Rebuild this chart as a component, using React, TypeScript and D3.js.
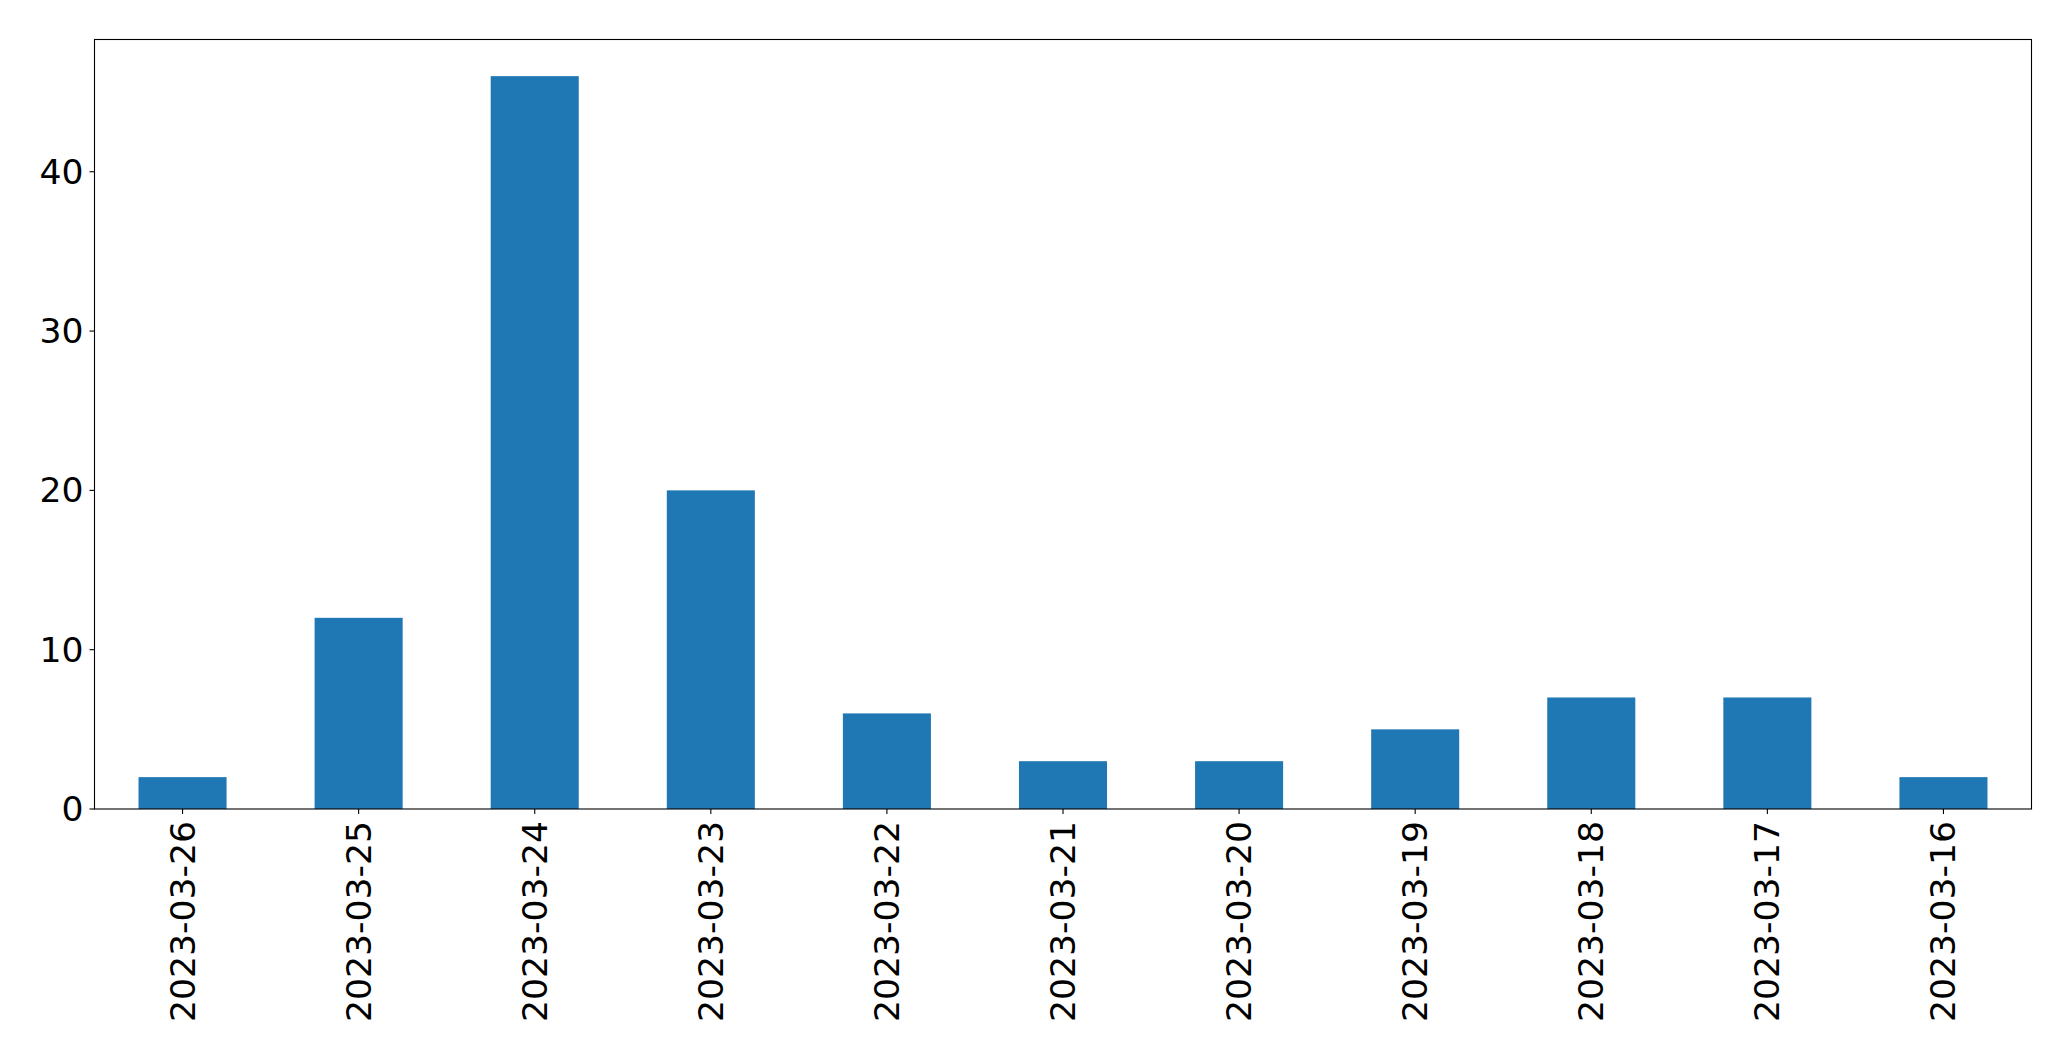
import React from "react";
import * as d3 from "d3";

const categories = [
  "2023-03-26", "2023-03-25", "2023-03-24", "2023-03-23", "2023-03-22",
  "2023-03-21", "2023-03-20", "2023-03-19", "2023-03-18", "2023-03-17", "2023-03-16",
];
const values = [2, 12, 46, 20, 6, 3, 3, 5, 7, 7, 2];
const yTicks = [0, 10, 20, 30, 40];

const W = 2071;
const H = 1061;
const margin = { left: 94.5, right: 2031.5, top: 39.5, bottom: 809 };
const FONT = "DejaVu Sans, sans-serif";
const FS = 34.6;

export default function App() {
  const x = d3
    .scaleBand<string>()
    .domain(categories)
    .range([margin.left, margin.right])
    .paddingInner(0.5)
    .paddingOuter(0.25);
  const yMax = d3.max(values)! * 1.05;
  const y = d3.scaleLinear().domain([0, yMax]).range([margin.bottom, margin.top]);

  return (
    <svg
      width={W}
      height={H}
      style={{ position: "absolute", left: 0, top: 0, background: "#fff" }}
    >
      <rect x={0} y={0} width={W} height={H} fill="#fff" />
      {categories.map((c, i) => (
        <rect
          key={c}
          x={x(c)!}
          y={y(values[i])}
          width={x.bandwidth()}
          height={y(0) - y(values[i])}
          fill="#1f77b4"
        />
      ))}
      <rect
        x={margin.left}
        y={margin.top}
        width={margin.right - margin.left}
        height={margin.bottom - margin.top}
        fill="none"
        stroke="#000"
        strokeWidth={1.1}
      />
      {yTicks.map((t) => (
        <g key={t}>
          <line x1={margin.left - 5} x2={margin.left} y1={y(t)} y2={y(t)} stroke="#000" strokeWidth={1.1} />
          <text
            x={margin.left - 11}
            y={y(t)}
            textAnchor="end"
            dominantBaseline="central"
            fontFamily={FONT}
            fontSize={FS}
            fill="#000"
          >
            {t}
          </text>
        </g>
      ))}
      {categories.map((c) => {
        const cx = x(c)! + x.bandwidth() / 2;
        return (
          <g key={c}>
            <line x1={cx} x2={cx} y1={margin.bottom} y2={margin.bottom + 5} stroke="#000" strokeWidth={1.1} />
            <text
              transform={`translate(${cx},${margin.bottom + 12}) rotate(-90)`}
              textAnchor="end"
              dominantBaseline="central"
              fontFamily={FONT}
              fontSize={FS}
              fill="#000"
            >
              {c}
            </text>
          </g>
        );
      })}
    </svg>
  );
}
